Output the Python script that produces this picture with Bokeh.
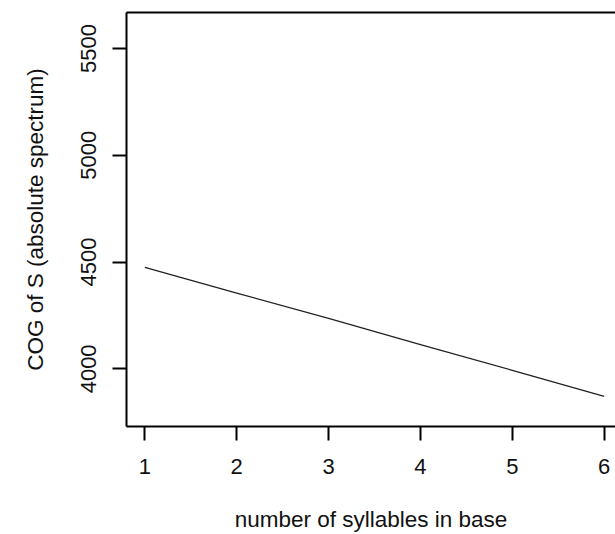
from bokeh.plotting import figure
from bokeh.models import Range1d, FixedTicker, LinearAxis
from bokeh.embed import file_html
from bokeh.resources import INLINE

# Data
syllables = [1, 2, 3, 4, 5, 6]
cog = [4475, 4355, 4236, 4114, 3993, 3871]
x_ticks = [1, 2, 3, 4, 5, 6]
y_ticks = [4000, 4500, 5000, 5500]

FONT = "Liberation Sans"

p = figure(width=615, height=534, output_backend="svg", toolbar_location=None,
           x_range=Range1d(0.8, 6.123), y_range=Range1d(3730, 5669),
           min_border_left=126, min_border_top=12, min_border_bottom=107,
           min_border_right=0, x_axis_location=None, y_axis_location=None)
p.outline_line_color = None
p.grid.visible = False
p.background_fill_color = "white"
p.border_fill_color = "white"

p.line(syllables, cog, line_color="#222222", line_width=1.3)

def style(ax):
    ax.axis_line_color = "black"
    ax.axis_line_width = 2
    ax.major_tick_line_color = "black"
    ax.major_tick_line_width = 2
    ax.major_tick_in = 0
    ax.major_tick_out = 14
    ax.minor_tick_line_color = None
    ax.major_label_text_font = FONT
    ax.major_label_text_font_size = "22px"
    ax.major_label_text_color = "#111111"
    ax.axis_label_text_font = FONT
    ax.axis_label_text_font_size = "22.5px"
    ax.axis_label_text_font_style = "normal"
    ax.axis_label_text_color = "#111111"

xa = LinearAxis(ticker=FixedTicker(ticks=x_ticks), axis_label="number of syllables in base")
style(xa)
xa.major_label_standoff = 18
xa.axis_label_standoff = 30
p.add_layout(xa, "below")

ya = LinearAxis(ticker=FixedTicker(ticks=y_ticks), axis_label="COG of S (absolute spectrum)")
style(ya)
ya.major_label_orientation = "vertical"
ya.major_label_standoff = 16
ya.axis_label_standoff = 31
p.add_layout(ya, "left")

top = LinearAxis(ticker=FixedTicker(ticks=[]))
top.axis_line_color = "black"
top.axis_line_width = 2
top.major_tick_line_color = None
top.minor_tick_line_color = None
top.major_label_text_font_size = "0px"
p.add_layout(top, "above")

open("out.html", "w").write(file_html(p, INLINE))
